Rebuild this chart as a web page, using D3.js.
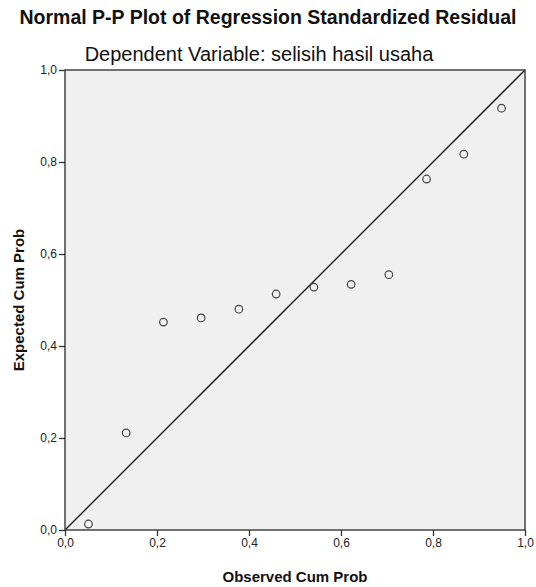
<!DOCTYPE html>
<html>
<head>
<meta charset="utf-8">
<script src="https://cdn.jsdelivr.net/npm/d3@7"></script>
<style>
  html, body { margin: 0; padding: 0; background: #ffffff; }
  svg { display: block; }
</style>
</head>
<body>
<svg id="chart" width="536" height="587"></svg>
<script>
const observed = [0.051, 0.133, 0.214, 0.296, 0.378, 0.459, 0.541, 0.622, 0.704, 0.786, 0.867, 0.949];
const expected = [0.013, 0.211, 0.452, 0.461, 0.480, 0.513, 0.528, 0.534, 0.555, 0.763, 0.817, 0.917];
const tickValues = [0, 0.2, 0.4, 0.6, 0.8, 1.0];
const tickLabels = ["0,0", "0,2", "0,4", "0,6", "0,8", "1,0"];
const title = "Normal P-P Plot of Regression Standardized Residual";
const subtitle = "Dependent Variable: selisih hasil usaha";
const xTitle = "Observed Cum Prob";
const yTitle = "Expected Cum Prob";

const svg = d3.select("#chart");
const m = { left: 65, right: 525, top: 70, bottom: 530 };
const x = d3.scaleLinear().domain([0, 1]).range([m.left, m.right]);
const y = d3.scaleLinear().domain([0, 1]).range([m.bottom, m.top]);
const font = "Liberation Sans, Arial, sans-serif";

svg.append("rect")
  .attr("x", m.left).attr("y", m.top)
  .attr("width", m.right - m.left).attr("height", m.bottom - m.top)
  .attr("fill", "#f0f0f0");

// diagonal
svg.append("line")
  .attr("x1", x(0)).attr("y1", y(0)).attr("x2", x(1)).attr("y2", y(1))
  .attr("stroke", "#111").attr("stroke-width", 1.3);

// points
svg.append("g").selectAll("circle")
  .data(observed.map((o, i) => [o, expected[i]]))
  .join("circle")
  .attr("cx", d => x(d[0])).attr("cy", d => y(d[1]))
  .attr("r", 3.8)
  .attr("fill", "none").attr("stroke", "#444").attr("stroke-width", 1.2);

// frame
svg.append("rect")
  .attr("x", m.left).attr("y", m.top)
  .attr("width", m.right - m.left).attr("height", m.bottom - m.top)
  .attr("fill", "none").attr("stroke", "#444").attr("stroke-width", 1.5);

const fmt = d => tickLabels[tickValues.indexOf(d)];

const xAxis = svg.append("g")
  .attr("transform", `translate(0,${m.bottom})`)
  .call(d3.axisBottom(x).tickValues(tickValues).tickFormat(fmt).tickSizeOuter(0).tickSize(6).tickPadding(2));
const yAxis = svg.append("g")
  .attr("transform", `translate(${m.left},0)`)
  .call(d3.axisLeft(y).tickValues(tickValues).tickFormat(fmt).tickSizeOuter(0).tickSize(6).tickPadding(2));

[xAxis, yAxis].forEach(g => {
  g.select(".domain").remove();
  g.selectAll(".tick line").attr("stroke", "#333").attr("stroke-width", 1.3);
  g.selectAll(".tick text").attr("fill", "#222").style("font-family", font).style("font-size", "12px");
});

svg.append("text")
  .attr("x", 268).attr("y", 24)
  .attr("text-anchor", "middle")
  .style("font-family", font).style("font-size", "19.5px").style("font-weight", "bold")
  .attr("fill", "#111")
  .text(title);

svg.append("text")
  .attr("x", 259).attr("y", 61)
  .attr("text-anchor", "middle")
  .style("font-family", font).style("font-size", "20px")
  .attr("fill", "#111")
  .text(subtitle);

svg.append("text")
  .attr("x", (m.left + m.right) / 2).attr("y", 582)
  .attr("text-anchor", "middle")
  .style("font-family", font).style("font-size", "15px").style("font-weight", "bold")
  .attr("fill", "#111")
  .text(xTitle);

svg.append("text")
  .attr("transform", `translate(24,${(m.top + m.bottom) / 2}) rotate(-90)`)
  .attr("text-anchor", "middle")
  .style("font-family", font).style("font-size", "15px").style("font-weight", "bold")
  .attr("fill", "#111")
  .text(yTitle);
</script>
</body>
</html>
